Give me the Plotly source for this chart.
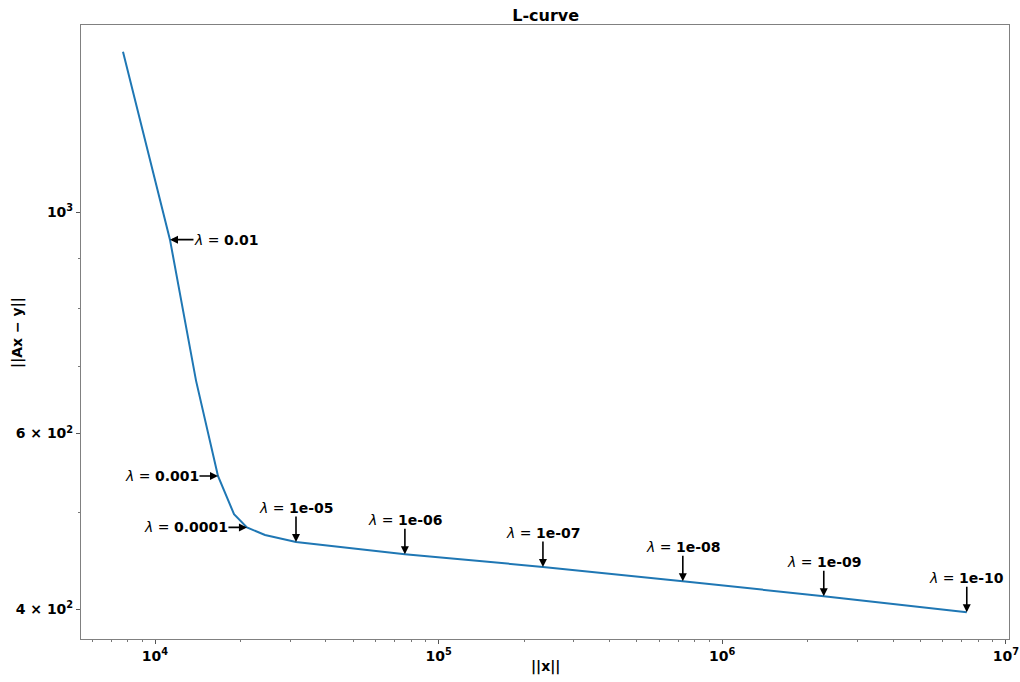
import numpy as np
import plotly.graph_objects as go

# Data (log-log L-curve)
norm_x = [7710, 11290, 13950, 16670, 18990, 21090, 24420, 31410, 76040, 233200, 726000, 2280000, 7280000]
resid = [1449, 939, 678, 544, 498, 483, 474.6, 467, 454, 440.9, 426.6, 412, 397]

# annotated lambda values and the curve point index each refers to
lam_labels = ["0.01", "0.001", "0.0001", "1e-05", "1e-06", "1e-07", "1e-08", "1e-09", "1e-10"]
lam_index = [1, 3, 5, 7, 8, 9, 10, 11, 12]

x_ticks = [1e4, 1e5, 1e6, 1e7]
x_ticktext = ["10<sup>4</sup>", "10<sup>5</sup>", "10<sup>6</sup>", "10<sup>7</sup>"]
y_ticks = [400, 600, 1000]
y_ticktext = ["4 × 10<sup>2</sup>", "6 × 10<sup>2</sup>", "10<sup>3</sup>"]

x_minor = [m * 10 ** e for e in range(3, 7) for m in range(2, 10)]
y_minor = [300, 500, 700, 800, 900, 2000]

FONT = "DejaVu Sans"

fig = go.Figure()
fig.add_trace(go.Scatter(x=norm_x, y=resid, mode="lines",
                         line=dict(color="#1f77b4", width=2), showlegend=False))

# offsets (px) of the label centre from the annotated point
offsets = {0: (56, 0), 1: (-56, 0), 2: (-61, 0)}
for k, (lab, idx) in enumerate(zip(lam_labels, lam_index)):
    ax, ay = offsets.get(k, (0, -34))
    fig.add_annotation(
        x=np.log10(norm_x[idx]), y=np.log10(resid[idx]), xref="x", yref="y",
        text="<i>λ</i> = <b>" + lab + "</b>",
        showarrow=True, ax=ax, ay=ay, axref="pixel", ayref="pixel",
        arrowhead=2, arrowsize=1, arrowwidth=1.6, arrowcolor="black", standoff=0,
        font=dict(family=FONT, size=14, color="black"), borderpad=0,
    )

# axis titles as annotations for exact placement
fig.add_annotation(text="<b>||x||</b>", xref="paper", yref="paper", x=0.5, y=-0.0456,
                   xanchor="center", yanchor="middle", showarrow=False,
                   font=dict(family=FONT, size=14, color="black"))
fig.add_annotation(text="<b>||Ax − y||</b>", xref="paper", yref="paper", x=-0.069, y=0.5,
                   xanchor="center", yanchor="middle", showarrow=False, textangle=-90,
                   font=dict(family=FONT, size=14, color="black"))

axis_common = dict(type="log", showgrid=False, zeroline=False, showline=True,
                   linecolor="#808080", linewidth=1, mirror=True, automargin=False,
                   ticks="outside", ticklen=4, tickwidth=1, tickcolor="#555555",
                   tickfont=dict(family=FONT, size=14, color="black", weight="bold"))

fig.update_xaxes(**axis_common, range=[3.739, 7.011], tickmode="array",
                 tickvals=x_ticks, ticktext=x_ticktext,
                 minor=dict(ticks="outside", ticklen=2, tickcolor="#777777", tickvals=x_minor))
fig.update_yaxes(**axis_common, range=[2.572, 3.188], tickmode="array",
                 tickvals=y_ticks, ticktext=y_ticktext,
                 minor=dict(ticks="outside", ticklen=2, tickcolor="#777777", tickvals=y_minor))

fig.update_layout(
    width=1020, height=682,
    margin=dict(l=81, r=11, t=25, b=43),
    paper_bgcolor="white", plot_bgcolor="white",
    title=dict(text="<b>L-curve</b>", x=0.535, xanchor="center", y=0.977, yanchor="middle",
               font=dict(family=FONT, size=16, color="black")),
)

fig.write_html("out.html")
